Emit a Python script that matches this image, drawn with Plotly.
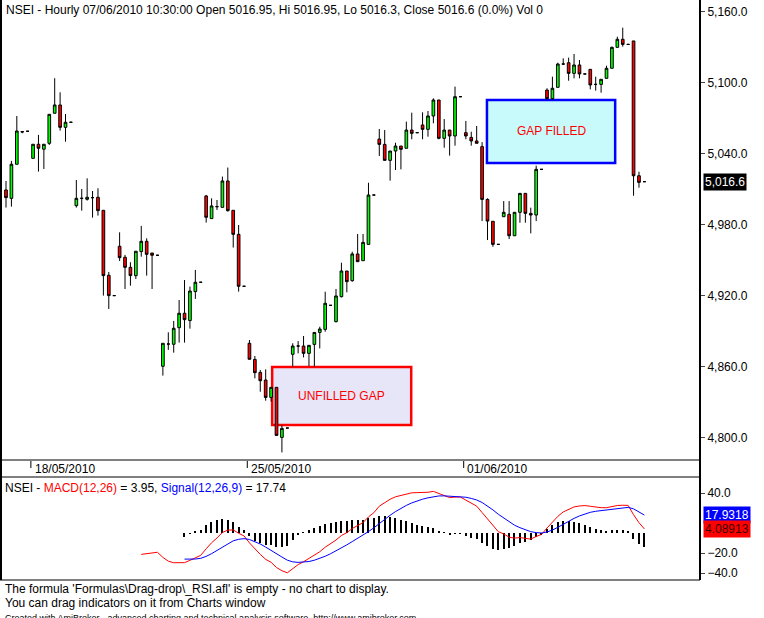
import numpy as np
import plotly.graph_objects as go

opens = [5009.6,5002.5,5031.3,5058.9,5059.2,5036.3,5048.2,5044.0,5049.0,5074.4,
5081.4,5062.5,5066.8,4996.3,5002.5,5001.7,5003.1,5003.4,4992.4,4937.5,
4920.3,4962.0,4952.7,4944.2,4937.2,4957.5,4966.2,4956.3,4954.4,4860.6,
4879.4,4879.2,4893.2,4905.4,4899.2,4923.7,4931.6,5004.5,4985.4,4995.5,
4994.9,5017.2,4992.4,4972.1,4928.2,4880.0,4866.4,4855.4,4849.0,4834.3,
4842.8,4800.5,4808.4,4870.7,4877.7,4877.7,4871.5,4879.1,4889.2,4891.8,
4912.1,4898.3,4919.4,4941.1,4932.9,4955.5,4949.8,4963.6,5005.3,5052.6,
5048.1,5034.6,5042.5,5046.7,5044.8,5060.2,5058.0,5064.5,5060.8,5072.1,
5085.6,5053.2,5060.2,5055.2,5088.4,5058.0,5054.0,5051.0,5046.2,5001.6,
4983.1,4963.6,4987.0,4989.0,4970.9,4990.7,5006.7,4989.8,4988.4,5027.0,
5094.0,5086.7,5096.3,5116.0,5117.1,5108.1,5115.2,5107.6,5111.5,5098.8,
5098.8,5103.9,5112.4,5130.1,5136.9,5132.6,5135.5,5021.6,5016.6]
highs = [5017.2,5034.1,5072.1,5059.4,5059.2,5048.2,5056.1,5048.2,5073.5,5104.0,
5092.1,5073.8,5066.8,5018.0,5010.4,5019.4,5008.7,5011.0,4992.4,4940.3,
4920.3,4973.8,4954.7,4948.5,4957.8,4979.2,4968.7,4956.3,4954.4,4880.0,
4889.3,4898.9,4916.6,4933.5,4927.9,4942.0,4931.6,5005.4,5002.5,5001.1,
5020.9,5028.5,4992.4,4980.0,4928.2,4882.8,4869.3,4857.4,4858.0,4842.8,
4842.8,4810.9,4808.4,4880.0,4881.9,4886.2,4878.3,4889.2,4894.0,4923.6,
4912.1,4925.9,4948.1,4941.1,4957.4,4972.4,4972.4,5015.7,5005.3,5061.1,
5060.2,5042.5,5049.5,5046.7,5067.3,5074.9,5058.0,5075.2,5076.3,5087.0,
5085.6,5069.5,5060.2,5096.9,5088.4,5067.9,5058.8,5063.6,5050.0,5002.5,
4983.1,4963.6,5000.2,5000.2,4990.7,5006.7,5006.7,4994.6,5030.1,5027.0,
5095.5,5105.3,5117.1,5120.8,5121.4,5124.5,5119.4,5107.6,5111.5,5105.3,
5103.1,5114.6,5130.7,5139.1,5146.7,5132.6,5135.5,5025.0,5016.6]
lows = [4994.7,4995.5,5031.3,5057.5,5059.2,5036.3,5025.1,5027.3,5047.6,5074.4,
5059.7,5050.4,5066.8,4994.7,4992.1,5000.6,4986.2,4987.9,4920.3,4909.0,
4920.3,4949.6,4925.9,4928.7,4934.4,4953.2,4937.2,4925.9,4954.4,4852.7,
4874.4,4872.1,4880.6,4880.6,4892.4,4917.5,4931.6,4982.0,4985.4,4992.7,
4994.9,4991.3,4960.9,4923.7,4928.2,4866.5,4850.4,4839.1,4831.5,4830.7,
4802.2,4787.8,4808.4,4860.2,4871.5,4868.1,4860.8,4860.2,4875.7,4889.8,
4912.1,4897.7,4918.8,4923.1,4932.1,4949.0,4949.8,4963.6,5005.3,5038.3,
5034.6,5017.4,5026.4,5027.0,5044.8,5052.4,5058.0,5052.4,5054.6,5065.9,
5052.4,5045.3,5038.6,5047.0,5088.4,5052.4,5047.0,5049.0,4983.3,4967.3,
4961.6,4963.6,4987.0,4968.1,4970.9,4981.9,4981.9,4972.9,4983.3,5027.0,
5086.2,5085.6,5096.3,5115.2,5101.9,5103.9,5103.9,5107.6,5094.6,5093.5,
5091.8,5103.9,5112.4,5130.1,5130.7,5132.6,5004.7,5011.5,5016.6]
closes = [5003.1,5031.3,5059.4,5058.6,5059.2,5048.2,5044.8,5048.2,5073.5,5081.4,
5062.5,5066.8,5066.8,5002.5,5002.5,5003.4,5003.1,4992.1,4937.2,4920.3,
4920.3,4952.4,4944.2,4937.2,4957.8,4966.2,4955.2,4954.4,4954.4,4880.0,
4879.4,4892.7,4905.4,4900.0,4924.2,4931.6,4931.6,4986.5,4996.1,4995.5,
5017.2,4992.1,4972.1,4928.2,4928.2,4866.5,4855.2,4848.4,4834.3,4842.8,
4802.2,4808.1,4808.4,4877.7,4877.7,4871.5,4878.3,4889.2,4892.1,4913.8,
4912.1,4920.0,4941.1,4932.1,4955.5,4949.0,4965.3,5005.3,5005.3,5048.1,
5034.6,5042.5,5046.7,5043.9,5060.2,5057.4,5058.0,5060.8,5072.1,5085.6,
5053.2,5060.2,5055.2,5088.4,5088.4,5055.2,5051.0,5049.0,5001.6,4983.3,
4963.6,4963.6,4990.7,4970.9,4990.7,5006.7,4989.8,4988.4,5027.0,5027.0,
5086.7,5095.5,5116.0,5116.0,5108.1,5115.2,5107.6,5107.6,5098.3,5098.8,
5103.1,5112.4,5130.1,5136.9,5132.6,5132.6,5021.6,5016.0,5016.6]

date_labels = ["18/05/2010", "25/05/2010", "01/06/2010"]
date_bars = [4.6, 44.6, 84.6]
price_ticks = [4800, 4860, 4920, 4980, 5040, 5100, 5160]
macd_ticks = [-40, -20, 40]
# gap zones: (x0 bar, x1 bar, low price, high price, label)
unfilled_gap = [49.2, 74.9, 4811.0, 4860.0, "UNFILLED GAP"]
filled_gap = [88.9, 112.6, 5032.4, 5085.6, "GAP FILLED"]

n = len(closes)
x = np.arange(n)
c = np.array(closes)

def ema(vals, p, start=0):
    out = np.full(len(vals), np.nan)
    a = 2.0 / (p + 1)
    out[start] = vals[start]
    for i in range(start + 1, len(vals)):
        out[i] = a * vals[i] + (1 - a) * out[i - 1]
    return out

macd = ema(c, 12) - ema(c, 26)
sig = ema(np.where(np.isnan(macd), 0, macd), 9, 25)
hist = macd - sig
M0, S0 = 25, 33

W, H = 764, 618
def py(p):
    return 1 - p / H
XR = [-6 / 5.41, 694 / 5.41]
XD = [0, 700 / W]

fig = go.Figure()
fig.add_trace(go.Candlestick(x=x, open=opens, high=highs, low=lows, close=closes,
    increasing=dict(fillcolor="#00FF00", line=dict(color="black", width=1)),
    decreasing=dict(fillcolor="#FF0000", line=dict(color="black", width=1)),
    whiskerwidth=0, xaxis="x", yaxis="y", showlegend=False, hoverinfo="skip"))
fig.add_trace(go.Bar(x=x[S0:], y=hist[S0:], width=0.22, marker=dict(color="black", line=dict(width=0)),
    xaxis="x2", yaxis="y2", showlegend=False))
fig.add_trace(go.Scatter(x=x[M0:], y=macd[M0:], mode="lines", line=dict(color="red", width=1),
    xaxis="x2", yaxis="y2", showlegend=False))
fig.add_trace(go.Scatter(x=x[S0:], y=sig[S0:], mode="lines", line=dict(color="blue", width=1),
    xaxis="x2", yaxis="y2", showlegend=False))

F = "Liberation Sans, Arial, sans-serif"
fig.update_layout(width=W, height=H, margin=dict(l=0, r=0, t=0, b=0),
    paper_bgcolor="white", plot_bgcolor="white", font=dict(family=F, size=12, color="black"),
    bargap=0,
    xaxis=dict(domain=XD, range=XR, showticklabels=False, showgrid=False, zeroline=False,
               rangeslider=dict(visible=False), anchor="y"),
    yaxis=dict(domain=[py(460), 1], range=[4781.4, 5170.1], side="right", anchor="x",
               tickvals=price_ticks, tickformat=",.1f", showgrid=False, zeroline=False,
               ticks="outside", ticklen=4, tickfont=dict(size=12)),
    xaxis2=dict(domain=XD, range=XR, showticklabels=False, showgrid=False, zeroline=False, anchor="y2"),
    yaxis2=dict(domain=[py(580), py(477)], range=[-47, 56], side="right", anchor="x2",
                tickvals=macd_ticks, tickformat=".1f", showgrid=False, zeroline=False,
                ticks="outside", ticklen=4, tickfont=dict(size=12)),
)

shapes = []
def pline(x0, y0, x1, y1, w=1):
    shapes.append(dict(type="line", xref="paper", yref="paper", x0=x0 / W, x1=x1 / W,
                       y0=py(y0), y1=py(y1), line=dict(color="black", width=w)))
pline(700, 0, 700, 580, 2)
pline(1, 0, 1, 580, 2)
pline(0, 460, 700, 460)
pline(0, 477, 700, 477)
pline(0, 580, 700, 580)
for b in date_bars:
    shapes.append(dict(type="line", xref="x", yref="paper", x0=b, x1=b, y0=py(461), y1=py(468),
                       line=dict(color="black", width=1)))
for g, fill, edge in [(unfilled_gap, "#E6E6F8", "#FF0000"), (filled_gap, "#C8FAFC", "#0000FF")]:
    shapes.append(dict(type="rect", xref="x", yref="y", x0=g[0], x1=g[1], y0=g[2], y1=g[3],
                       fillcolor=fill, line=dict(color=edge, width=2.5), layer="below"))
fig.update_layout(shapes=shapes)

ann = []
ann.append(dict(text="NSEI - Hourly 07/06/2010 10:30:00 Open 5016.95, Hi 5016.95, Lo 5016.3, Close 5016.6 (0.0%) Vol 0",
    xref="paper", yref="paper", x=4 / W, y=py(1), xanchor="left", yanchor="top", showarrow=False, font=dict(size=12)))
ann.append(dict(text="NSEI - <span style='color:red'>MACD(12,26)</span> = 3.95, <span style='color:blue'>Signal(12,26,9)</span> = 17.74",
    xref="paper", yref="paper", x=3 / W, y=py(479), xanchor="left", yanchor="top", showarrow=False, font=dict(size=12)))
for lbl, b in zip(date_labels, date_bars):
    ann.append(dict(text=lbl, xref="x", yref="paper", x=b + 0.3, y=py(468.5), xanchor="left", yanchor="middle",
                    showarrow=False, font=dict(size=12)))
for g in [unfilled_gap, filled_gap]:
    ann.append(dict(text=g[4], xref="x", yref="y", x=(g[0] + g[1]) / 2, y=(g[2] + g[3]) / 2, showarrow=False,
                    font=dict(size=12, color="red")))
ann.append(dict(text=f"{closes[-1]:,.1f}", xref="paper", yref="y", x=703 / W, y=closes[-1], xanchor="left",
                showarrow=False, bgcolor="black", font=dict(size=12, color="white"), borderpad=1))
ann.append(dict(text=f"{sig[-1]:.4f}", xref="paper", yref="y2", x=703 / W, y=sig[-1], xanchor="left",
                showarrow=False, bgcolor="blue", font=dict(size=12, color="white"), borderpad=1))
ann.append(dict(text=f"{macd[-1]:.5f}", xref="paper", yref="y2", x=703 / W, y=macd[-1], xanchor="left",
                showarrow=False, bgcolor="red", font=dict(size=12, color="#400000"), borderpad=1))
ann.append(dict(text="The formula 'Formulas\\Drag-drop\\_RSI.afl' is empty - no chart to display.",
    xref="paper", yref="paper", x=3 / W, y=py(589), xanchor="left", yanchor="middle", showarrow=False))
ann.append(dict(text="You can drag indicators on it from Charts window",
    xref="paper", yref="paper", x=3 / W, y=py(603), xanchor="left", yanchor="middle", showarrow=False))
ann.append(dict(text="Created with AmiBroker - advanced charting and technical analysis software. http://www.amibroker.com",
    xref="paper", yref="paper", x=3 / W, y=py(611), xanchor="left", yanchor="top", showarrow=False, font=dict(size=9)))
fig.update_layout(annotations=ann)

fig.write_html("out.html", config={"displayModeBar": False},
               post_script="document.body.style.margin='0';document.body.style.overflow='hidden';")
